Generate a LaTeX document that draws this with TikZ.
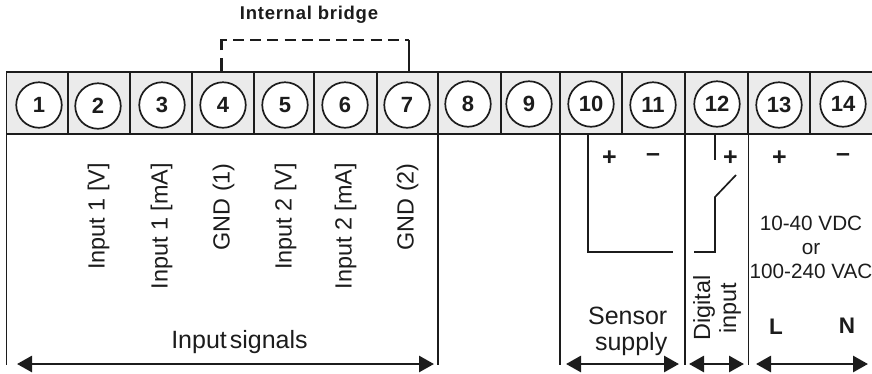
\documentclass[tikz,border=0pt]{standalone}
\usepackage{fontspec}
\setmainfont{Liberation Sans}
\usetikzlibrary{arrows.meta}
\definecolor{ink}{HTML}{1C1C1C}
\definecolor{cell}{HTML}{EBEBEB}
\tikzset{
  rail/.style={draw=ink,line width=1.9pt},
  termcircle/.style={circle,draw=ink,fill=white,line width=1.7pt,minimum size=45.5pt,inner sep=0pt,font=\fontsize{22}{22}\selectfont\bfseries,text=ink},
  wire/.style={draw=ink,line width=1.7pt},
  span/.style={draw=ink,line width=2.8pt,{Triangle[length=15pt,width=16pt]}-{Triangle[length=15pt,width=16pt]}},
  rot/.style={rotate=90,anchor=east,font=\fontsize{23.4}{23.4}\selectfont,text=ink,inner sep=0pt},
  lab/.style={font=\fontsize{25}{26.5}\selectfont,text=ink,inner sep=0pt},
  small/.style={font=\fontsize{20.7}{24}\selectfont,text=ink,align=center,inner sep=0pt},
  sign/.style={font=\fontsize{25}{25}\selectfont\bfseries,text=ink,inner sep=0pt},
  letter/.style={font=\fontsize{22.5}{22.5}\selectfont\bfseries,text=ink,inner sep=0pt},
}
\begin{document}
\begin{tikzpicture}[x=1pt,y=-1pt]
\useasboundingbox (0,0) rectangle (872,373);
\fill[cell] (6.5,72) rectangle (873,134);
% horizontal rails and cell dividers
\draw[rail] (873,72) -- (6.5,72) -- (6.5,134) -- (873,134);
\foreach \x in {68,130,192,254,314,377,438,501,560,622,685,748,810}
  \draw[rail] (\x,72) -- (\x,134);
% long verticals
\foreach \x in {6.5,438,560,685,748.5}
  \draw[rail] (\x,134) -- (\x,365);
% terminals
\foreach \n/\x/\y in {1/39/105,2/98/106,3/162/105,4/223/105,5/285/105,6/345/105,7/407/105,8/468/104,9/529/104,10/591/104,11/653/105,12/717/104,13/779/105,14/843/104}
  \node[termcircle] (t\n) at (\x,\y) {\n};
% bridge
\node[font=\fontsize{18.5}{18.5}\selectfont\bfseries,text=ink,inner sep=0pt] (bridge) at (309,14.5) {\addfontfeature{LetterSpace=4}Internal bridge};
\coordinate (b4) at (221.5,72);
\coordinate (b4t) at (221.5,40);
\coordinate (b7) at (409,72);
\coordinate (b7t) at (409,40);
\draw[wire,line width=2.2pt] (b4) -- (221.5,58);
\draw[wire,line width=2.2pt] (221.5,50) -- (b4t) -- (227,40);
\draw[wire,line width=2.2pt,dash pattern=on 11pt off 6.2pt] (233,40) -- (b7t);
\draw[wire] (b7t) -- (b7);
% rotated labels
\foreach \x/\t in {98.5/Input 1 [V],161.5/Input 1 [mA],223.5/GND (1),285.5/Input 2 [V],345.5/Input 2 [mA],407.5/GND (2)}
  \node[rot] at (\x,163) {\t};
% sensor wire
\coordinate (s0) at (588,134);
\coordinate (s1) at (673,252);
\draw[wire] (s0) |- (s1);
% digital input switch
\coordinate (d0) at (715,134);
\coordinate (d1) at (715,160);
\coordinate (d2) at (736,175);
\coordinate (d3) at (715,197);
\coordinate (d4) at (694,252);
\draw[wire] (d0) -- (d1);
\draw[wire] (d2) -- (d3) |- (d4);
% signs
\node[sign] at (609.5,158.5) {+};
\node[sign] at (653,157.5) {–};
\node[sign] at (730.5,158.5) {+};
\node[sign] at (779.5,158.5) {+};
\node[sign] at (843,157.5) {–};
% supply text
\node[small] at (811,247) {10-40 VDC\\or\\100-240 VAC};
\node[letter] at (776,327) {L};
\node[letter] at (847,326) {N};
% group labels
\node[lab] at (239.5,342) {Input\hspace{3pt}signals};
\node[lab,align=right,anchor=east] at (667.5,331.5) {Sensor\\supply};
\node[rotate=90,font=\fontsize{23.4}{26}\selectfont,text=ink,align=center,inner sep=0pt] at (717,308) {Digital\\input};
% arrows
\coordinate (a1) at (17,364); \coordinate (a2) at (434,364);
\coordinate (a3) at (566,364); \coordinate (a4) at (679,364);
\coordinate (a5) at (689,364); \coordinate (a6) at (744,364);
\coordinate (a7) at (756,364); \coordinate (a8) at (868,364);
\draw[span] (a1) -- (a2);
\draw[span] (a3) -- (a4);
\draw[span] (a5) -- (a6);
\draw[span] (a7) -- (a8);
\end{tikzpicture}
\end{document}
